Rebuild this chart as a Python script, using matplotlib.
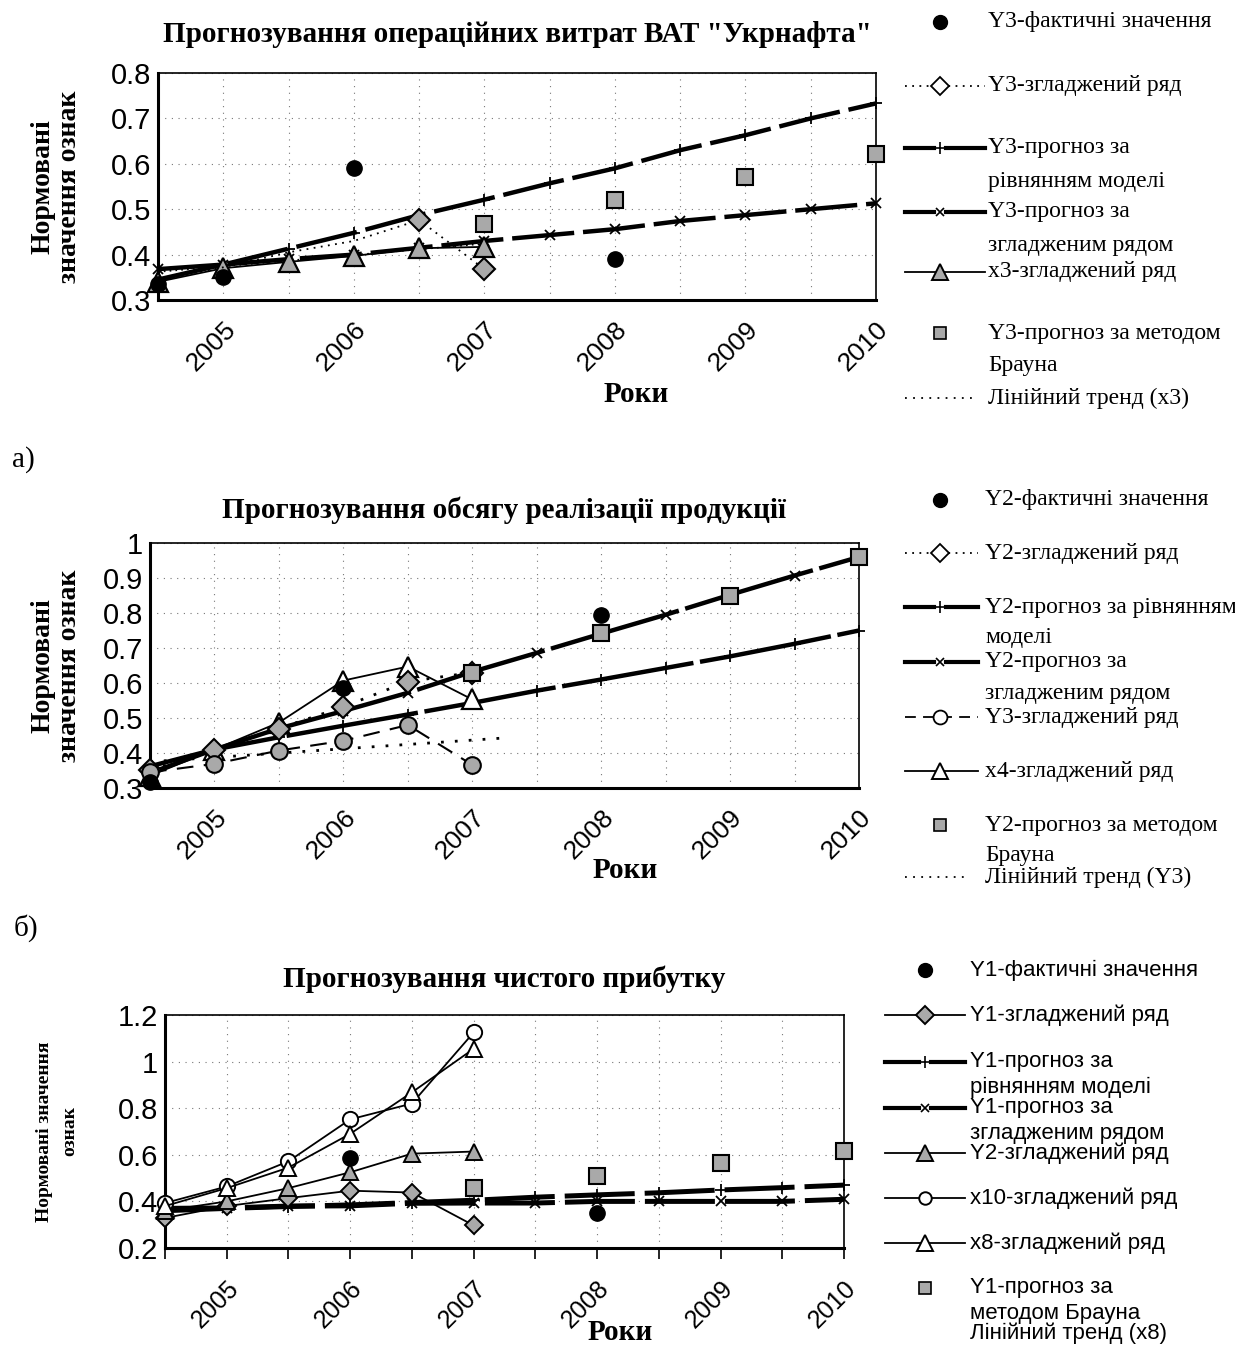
import numpy as np
import matplotlib
matplotlib.use('Agg')
import matplotlib.pyplot as plt
from matplotlib.ticker import FuncFormatter

SERIF = 'Liberation Serif'
SANS = 'Liberation Sans'
GRAY = '#a9a9a9'

# categories (half-year steps), year label on every second one
years = ['', '2005', '', '2006', '', '2007', '', '2008', '', '2009', '', '2010']

# a) operating costs of "Ukrnafta"
a_fact_pos = [0, 1, 3, 7]
a_fact = [0.335, 0.35, 0.59, 0.39]
a_smooth = [0.345, 0.372, 0.405, 0.43, 0.476, 0.368]
a_model = [0.345, 0.378, 0.413, 0.448, 0.487, 0.521, 0.557, 0.59, 0.63, 0.663, 0.70, 0.733]
a_smfc = [0.368, 0.378, 0.39, 0.40, 0.415, 0.43, 0.443, 0.456, 0.474, 0.487, 0.50, 0.513]
a_x3 = [0.34, 0.37, 0.384, 0.397, 0.414, 0.417]
a_brown_pos = [5, 7, 9, 11]
a_brown = [0.468, 0.52, 0.571, 0.621]
a_trend_pos = [0, 5]
a_trend = [0.362, 0.424]

# b) sales volume
b_fact_pos = [0, 3, 7]
b_fact = [0.318, 0.585, 0.795]
b_smooth = [0.35, 0.41, 0.47, 0.532, 0.604, 0.63]
b_model = [0.362, 0.41, 0.445, 0.478, 0.51, 0.543, 0.578, 0.61, 0.643, 0.676, 0.712, 0.75]
b_smfc = [0.343, 0.41, 0.47, 0.52, 0.572, 0.632, 0.686, 0.741, 0.795, 0.852, 0.907, 0.96]
b_y3 = [0.345, 0.369, 0.407, 0.435, 0.48, 0.366]
b_x4 = [0.335, 0.41, 0.487, 0.607, 0.647, 0.553]
b_brown_pos = [5, 7, 9, 11]
b_brown = [0.63, 0.743, 0.85, 0.96]
b_trend_pos = [0, 5.5]
b_trend = [0.375, 0.443]

# c) net profit
c_fact_pos = [3, 7]
c_fact = [0.585, 0.35]
c_y1 = [0.329, 0.38, 0.414, 0.446, 0.438, 0.297]
c_model = [0.36, 0.37, 0.378, 0.385, 0.395, 0.405, 0.418, 0.428, 0.437, 0.449, 0.459, 0.47]
c_smfc = [0.37, 0.372, 0.38, 0.381, 0.392, 0.393, 0.393, 0.40, 0.40, 0.40, 0.40, 0.409]
c_y2 = [0.36, 0.40, 0.457, 0.525, 0.605, 0.614]
c_x10 = [0.393, 0.464, 0.572, 0.752, 0.82, 1.125]
c_x8 = [0.38, 0.457, 0.545, 0.69, 0.868, 1.055]
c_brown_pos = [5, 7, 9, 11]
c_brown = [0.457, 0.508, 0.564, 0.617]

W, H = 1235, 1345
fig = plt.figure(figsize=(W / 100, H / 100), dpi=100)


def px_axes(left, top, right, bottom):
    return fig.add_axes([left / W, 1 - bottom / H, (right - left) / W, (bottom - top) / H])


def setup(ax, ymin, ymax, step, xfs, xticks_out=False):
    ax.set_xlim(0, 11)
    ax.set_ylim(ymin, ymax)
    ax.set_xticks(range(12))
    ax.set_xticklabels(years, rotation=45, ha='right', va='top',
                       rotation_mode='anchor', fontsize=xfs, family=SANS)
    ax.set_yticks(np.arange(ymin, ymax + step / 2, step))
    ax.yaxis.set_major_formatter(FuncFormatter(lambda v, p: '%g' % round(v, 2)))
    for t in ax.get_yticklabels():
        t.set_family(SANS)
        t.set_fontsize(21)
    ax.tick_params(axis='y', length=0, pad=5)
    ax.tick_params(axis='x', length=8 if xticks_out else 0, width=1.2, pad=12)
    ax.grid(True, linestyle=(0, (1, 5)), color='#777777', lw=0.8)
    for s in ['left', 'bottom']:
        ax.spines[s].set_linewidth(2.2)
    for s in ['top', 'right']:
        ax.spines[s].set_linewidth(1.2)
    ax.set_axisbelow(True)


def ylab(ax, text, fs, xpx, left):
    ax.set_ylabel(text, family=SERIF, fontweight='bold', fontsize=fs, linespacing=1.1)
    bb = ax.get_position()
    ax.yaxis.set_label_coords((xpx - left) / (bb.width * W), 0.5)


thick = dict(color='black', lw=3.2, dashes=(14, 2), clip_on=False, zorder=3)
thin = dict(color='black', lw=1.3, clip_on=False, zorder=4)

# ---------- a) ----------
ax = px_axes(158, 73, 876, 300)
setup(ax, 0.3, 0.8, 0.1, 19)
ax.plot(range(12), a_model, marker='+', ms=9, mew=1.3, **thick)
ax.plot(range(12), a_smfc, marker='x', ms=7, mew=1.3, **thick)
ax.plot(a_trend_pos, a_trend, color='black', lw=1.2, ls=(0, (1, 2.5)), zorder=4)
ax.plot(range(6), a_smooth, color='black', lw=1.3, ls=(0, (1, 3)), marker='D', ms=11,
        mfc=GRAY, mec='black', mew=1.5, clip_on=False, zorder=5, markevery=[4, 5])
ax.plot(range(6), a_x3, marker='^', ms=14, mfc=GRAY, mec='black', mew=1.6, **thin)
ax.plot(a_fact_pos, a_fact, 'o', color='black', ms=11, clip_on=False, zorder=6)
ax.plot(a_brown_pos, a_brown, 's', ms=11, mfc=GRAY, mec='black', mew=1.5, clip_on=False, zorder=6)
ax.set_title('Прогнозування операційних витрат ВАТ "Укрнафта"', family=SERIF,
             fontweight='bold', fontsize=21, pad=22)
ylab(ax, 'Нормовані\nзначення ознак', 20, 82, 158)
fig.text(636 / W, 1 - 395 / H, 'Роки', family=SERIF, fontweight='bold', fontsize=21,
         ha='center', va='center')

# ---------- b) ----------
ax = px_axes(150, 543, 859, 788)
setup(ax, 0.3, 1.0, 0.1, 19)
ax.plot(range(12), b_model, marker='+', ms=9, mew=1.3, **dict(thick, dashes=(30, 1.5)))
ax.plot(range(12), b_smfc, marker='x', ms=7, mew=1.3, **dict(thick, dashes=(30, 1.5)))
ax.plot(b_trend_pos, b_trend, color='black', lw=2, ls=(0, (1, 4)), zorder=4)
ax.plot(range(6), b_smooth, color='black', lw=2, ls=(0, (1, 4)), marker='D', ms=11,
        mfc=GRAY, mec='black', mew=1.5, clip_on=False, zorder=5)
ax.plot(range(6), b_y3, color='black', lw=1.5, ls=(0, (8, 5)), marker='o', ms=12,
        mfc=GRAY, mec='black', mew=1.5, clip_on=False, zorder=5)
ax.plot(range(6), b_x4, marker='^', ms=14, mfc='white', mec='black', mew=1.6, **thin)
ax.plot(b_fact_pos, b_fact, 'o', color='black', ms=11, clip_on=False, zorder=6)
ax.plot(b_brown_pos, b_brown, 's', ms=12, mfc=GRAY, mec='black', mew=1.5, clip_on=False, zorder=6)
ax.set_title('Прогнозування обсягу реалізації продукції', family=SERIF,
             fontweight='bold', fontsize=21, pad=18)
ylab(ax, 'Нормовані\nзначення ознак', 20, 82, 150)
fig.text(625 / W, 1 - 870 / H, 'Роки', family=SERIF, fontweight='bold', fontsize=21,
         ha='center', va='center')

# ---------- c) ----------
ax = px_axes(165, 1015, 844, 1248)
setup(ax, 0.2, 1.2, 0.2, 18, xticks_out=True)
ax.plot(range(12), c_model, marker='+', ms=9, mew=1.3, **dict(thick, lw=3.6))
ax.plot(range(12), c_smfc, marker='x', ms=7, mew=1.3, **dict(thick, lw=3.6))
ax.plot(range(6), c_y1, marker='D', ms=9, mfc=GRAY, mec='black', mew=1.4, **thin)
ax.plot(range(6), c_y2, marker='^', ms=12, mfc=GRAY, mec='black', mew=1.4, **thin)
ax.plot(range(6), c_x10, marker='o', ms=11, mfc='white', mec='black', mew=1.4, **thin)
ax.plot(range(6), c_x8, marker='^', ms=12, mfc='white', mec='black', mew=1.4, **thin)
ax.plot(c_fact_pos, c_fact, 'o', color='black', ms=11, clip_on=False, zorder=6)
ax.plot(c_brown_pos, c_brown, 's', ms=11, mfc=GRAY, mec='black', mew=1.5, clip_on=False, zorder=6)
ax.set_title('Прогнозування чистого прибутку', family=SERIF,
             fontweight='bold', fontsize=21, pad=20)
ylab(ax, 'Нормовані значення\nознак', 14, 78, 165)
ax.yaxis.label.set_linespacing(1.6)
fig.text(620 / W, 1 - 1333 / H, 'Роки', family=SERIF, fontweight='bold', fontsize=21,
         ha='center', va='center')

# ---------- legends and panel marks, drawn in pixel coordinates ----------
ov = fig.add_axes([0, 0, 1, 1], facecolor='none')
ov.set_xlim(0, W)
ov.set_ylim(H, 0)
ov.axis('off')


def sample(y, kind, x0, x1, xm):
    if kind == 'fact':
        ov.plot([xm], [y], 'o', color='black', ms=10)
    elif kind == 'smooth_dot':
        ov.plot([x0, x1], [y, y], color='black', lw=1.3, ls=(0, (1, 3)))
        ov.plot([xm], [y], 'D', ms=9, mfc='white', mec='black', mew=1.3)
    elif kind in ('plus', 'cross'):
        ov.plot([x0, xm - 6], [y, y], color='black', lw=3)
        ov.plot([xm + 6, x1], [y, y], color='black', lw=3)
        if kind == 'plus':
            ov.plot([xm], [y], '+', color='black', ms=8, mew=1.2)
        else:
            ov.plot([xm], [y], 'x', color='black', ms=6, mew=1.2)
    elif kind in ('tri_gray', 'tri_white', 'dia_gray', 'circ_white'):
        m = {'tri_gray': '^', 'tri_white': '^', 'dia_gray': 'D', 'circ_white': 'o'}[kind]
        fc = GRAY if 'gray' in kind else 'white'
        ov.plot([x0, x1], [y, y], color='black', lw=1.3)
        ov.plot([xm], [y], m, ms=11 if m == '^' else 9, mfc=fc, mec='black', mew=1.4)
    elif kind == 'circ_dash':
        ov.plot([x0, x1], [y, y], color='black', lw=1.3, ls=(0, (6, 4)))
        ov.plot([xm], [y], 'o', ms=10, mfc='white', mec='black', mew=1.3)
    elif kind == 'square':
        ov.plot([xm], [y], 's', ms=9, mfc=GRAY, mec='black', mew=1.2)
    elif kind == 'trend':
        ov.plot([x0, x1 - 10], [y, y], color='black', lw=1.3, ls=(0, (1, 3.5)))


a_items = [
    (22, 'fact', 'Y3-фактичні значення'),
    (86, 'smooth_dot', 'Y3-згладжений ряд'),
    (148, 'plus', 'Y3-прогноз за\nрівнянням моделі'),
    (212, 'cross', 'Y3-прогноз за\nзгладженим рядом'),
    (272, 'tri_gray', 'x3-згладжений ряд'),
    (333, 'square', 'Y3-прогноз за методом\nБрауна'),
    (398, 'trend', 'Лінійний тренд (x3)'),
]
b_items = [
    (500, 'fact', 'Y2-фактичні значення'),
    (553, 'smooth_dot', 'Y2-згладжений ряд'),
    (607, 'plus', 'Y2-прогноз за рівнянням\nмоделі'),
    (662, 'cross', 'Y2-прогноз за\nзгладженим рядом'),
    (717, 'circ_dash', 'Y3-згладжений ряд'),
    (771, 'tri_white', 'x4-згладжений ряд'),
    (825, 'square', 'Y2-прогноз за методом\nБрауна'),
    (877, 'trend', 'Лінійний тренд (Y3)'),
]
c_items = [
    (970, 'fact', 'Y1-фактичні значення'),
    (1015, 'dia_gray', 'Y1-згладжений ряд'),
    (1062, 'plus', 'Y1-прогноз за\nрівнянням моделі'),
    (1108, 'cross', 'Y1-прогноз за\nзгладженим рядом'),
    (1153, 'tri_gray', 'Y2-згладжений ряд'),
    (1198, 'circ_white', 'x10-згладжений ряд'),
    (1243, 'tri_white', 'x8-згладжений ряд'),
    (1288, 'square', 'Y1-прогноз за\nметодом Брауна'),
    (1333, None, 'Лінійний тренд (x8)'),
]


def put_legend(items, tx, fam, fs, x0, x1, xm, step):
    for y, kind, label in items:
        if kind:
            sample(y, kind, x0, x1, xm)
        for i, line in enumerate(label.split('\n')):
            ov.text(tx, y + i * step, line, family=fam, fontsize=fs, va='center', ha='left')


put_legend(a_items, 988, SERIF, 17, 905, 985, 940, 33)
put_legend(b_items, 985, SERIF, 17, 905, 978, 940, 31)
put_legend(c_items, 970, SANS, 16, 885, 965, 925, 25)

ov.text(12, 460, 'а)', family=SERIF, fontsize=21, va='center', ha='left')
ov.text(14, 928, 'б)', family=SERIF, fontsize=21, va='center', ha='left')

fig.savefig('out.png', dpi=100)
